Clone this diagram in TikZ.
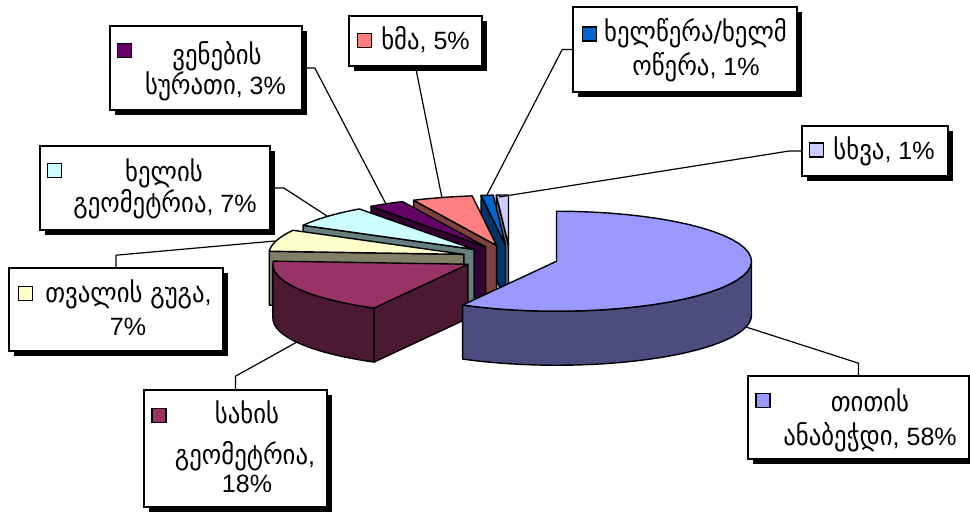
\documentclass[tikz,border=0pt]{standalone}
\usepackage{fontspec}
\setmainfont{Liberation Sans}
\newfontfamily\geo{DejaVu Sans}[Scale=1.1,FakeStretch=0.9]
\usetikzlibrary{shadows}
\definecolor{cBig}{HTML}{9999FF}
\definecolor{cFace}{HTML}{993366}
\definecolor{cEye}{HTML}{FFFFCC}
\definecolor{cHand}{HTML}{CCFFFF}
\definecolor{cVein}{HTML}{660066}
\definecolor{cVoice}{HTML}{FF8080}
\definecolor{cWrite}{HTML}{0066CC}
\definecolor{cOther}{HTML}{CCCCFF}
\newcommand\pieapex[2]{%
  \pgfmathsetmacro\pmid{(#1+#2)/2}%
  \pgfmathsetmacro\px{510+48*cos(\pmid)}%
  \pgfmathsetmacro\py{258-13*sin(\pmid)}}
\newcommand\piecut[2]{%
  \filldraw[pieline, fill=#2!50!black] (\px,\py) -- ({\px+195*cos(#1)},{\py-50*sin(#1)}) -- ({\px+195*cos(#1)},{\py+54-50*sin(#1)}) -- (\px,\py+54) -- cycle;}
\newcommand\pieside[3]{%
  \filldraw[pieline, fill=#3!50!black] plot[variable=\t,domain=#1:#2,samples=40] ({\px+195*cos(\t)},{\py-50*sin(\t)}) -- plot[variable=\t,domain=#2:#1,samples=40] ({\px+195*cos(\t)},{\py+54-50*sin(\t)}) -- cycle;}
\newcommand\pietop[3]{%
  \filldraw[pieline, fill=#3] (\px,\py) -- plot[variable=\t,domain=#1:#2,samples=40] ({\px+195*cos(\t)},{\py-50*sin(\t)}) -- cycle;}
\begin{document}
\begin{tikzpicture}[x=1pt,y=-1pt,
  pieline/.style={draw=black, line width=1.4pt, line join=round},
  lbox/.style={draw=black, line width=1.6pt, fill=white, inner sep=0pt,
     drop shadow={shadow xshift=5pt, shadow yshift=-5pt, opacity=1, fill=black}},
  lsq/.style={draw=black, line width=1.4pt, minimum size=14pt, inner sep=0pt},
  ltxt/.style={anchor=base, inner sep=0pt, font=\fontsize{25}{30}\selectfont},
  leader/.style={draw=black, line width=1.2pt}]
\useasboundingbox (0,0) rectangle (970,513);
% pie slices, back to front
\pieapex{90}{93.6}\piecut{93.6}{cOther}\pietop{90}{93.6}{cOther}
\pieapex{93.6}{97.2}\piecut{97.2}{cWrite}\pietop{93.6}{97.2}{cWrite}
\pieapex{97.2}{115.2}\piecut{115.2}{cVoice}\pietop{97.2}{115.2}{cVoice}
\pieapex{115.2}{126}\piecut{126}{cVein}\pietop{115.2}{126}{cVein}
\pieapex{126}{151.2}\piecut{151.2}{cHand}\pietop{126}{151.2}{cHand}
\pieapex{151.2}{176.4}\piecut{176.4}{cEye}\pietop{151.2}{176.4}{cEye}
\pieapex{176.4}{241.2}\piecut{241.2}{cFace}\pieside{180}{241.2}{cFace}\pietop{176.4}{241.2}{cFace}
\pieapex{-118.8}{90}\pieside{-118.8}{0}{cBig}\pietop{-118.8}{90}{cBig}
% leader end points
\coordinate (e1) at (386,204);
\coordinate (e2) at (442,198);
\coordinate (e3) at (327,216);
\coordinate (e4) at (275,241);
\coordinate (e5) at (297,342);
\coordinate (e6) at (487,195);
\coordinate (e7) at (499,197);
\coordinate (e8) at (746,327);
% label boxes
\node[lbox, minimum width=192pt, minimum height=84pt] (b1) at (206,68) {};
\node[lbox, minimum width=133pt, minimum height=50pt] (b2) at (415.5,41) {};
\node[lbox, minimum width=230pt, minimum height=84pt] (b3) at (155,188) {};
\node[lbox, minimum width=214pt, minimum height=83pt] (b4) at (116,309.5) {};
\node[lbox, minimum width=183pt, minimum height=117pt] (b5) at (235.5,448.5) {};
\node[lbox, minimum width=224pt, minimum height=85pt] (b6) at (685,49.5) {};
\node[lbox, minimum width=146pt, minimum height=50pt] (b7) at (875,151) {};
\node[lbox, minimum width=221pt, minimum height=83pt] (b8) at (858.5,417.5) {};
% leaders
\draw[leader] (b1.east) -- ++(12,0) -- (e1);
\draw[leader] (b2.south) -- (e2);
\draw[leader] (b3.east) -- ++(13,0) -- (e3);
\draw[leader] (b4.north) -- ++(0,-12) -- (e4);
\draw[leader] (b5.north) -- ++(0,-13) -- (e5);
\draw[leader] (b6.west) -- ++(-10,0) -- (e6);
\draw[leader] (b7.west) -- ++(-12,0) -- (e7);
\draw[leader] (b8.north) -- ++(0,-12) -- (e8);
% legend keys
\node[lsq, fill=cVein] (k1) at (124.5,50.5) {};
\node[lsq, fill=cVoice] (k2) at (364.5,40.5) {};
\node[lsq, fill=cHand] (k3) at (54.5,170.5) {};
\node[lsq, fill=cEye] (k4) at (25.5,293.5) {};
\node[lsq, fill=cFace] (k5) at (159,415.5) {};
\node[lsq, fill=cWrite] (k6) at (589.5,34) {};
\node[lsq, fill=cOther] (k7) at (816.5,150) {};
\node[lsq, fill=cBig] (k8) at (763,400.5) {};
% texts
\node[ltxt] (t1a) at (217,65) {\geo ვენების};
\node[ltxt] (t1b) at (215.5,95) {{\geo სურათი}, 3\%};
\node[ltxt] (t2) at (425.5,50) {{\geo ხმა}, 5\%};
\node[ltxt] (t3a) at (164,182) {\geo ხელის};
\node[ltxt] (t3b) at (165,213) {{\geo გეომეტრია}, 7\%};
\node[ltxt] (t4a) at (128.5,303) {{\geo თვალის გუგა},};
\node[ltxt] (t4b) at (128,336) {7\%};
\node[ltxt] (t5a) at (247,423) {\geo სახის};
\node[ltxt] (t5b) at (245,464) {{\geo გეომეტრია},};
\node[ltxt] (t5c) at (247,492) {18\%};
\node[ltxt] (t6a) at (695.5,42) {\geo ხელწერა/ხელმ};
\node[ltxt] (t6b) at (696,76) {{\geo ოწერა}, 1\%};
\node[ltxt] (t7) at (884,160) {{\geo სხვა}, 1\%};
\node[ltxt] (t8a) at (870,411) {\geo თითის};
\node[ltxt] (t8b) at (870,445) {{\geo ანაბეჭდი}, 58\%};
\end{tikzpicture}
\end{document}
